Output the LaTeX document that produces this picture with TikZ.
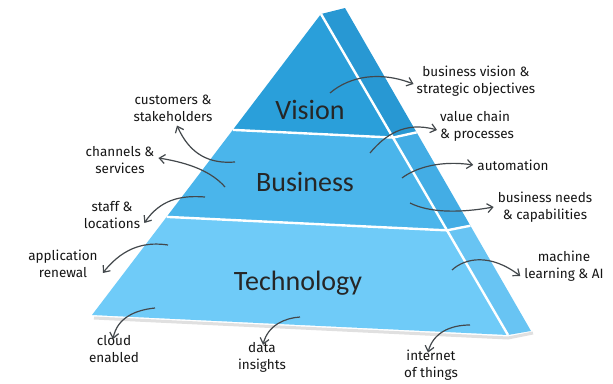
\documentclass[tikz,border=0pt]{standalone}
\usepackage{fontspec}
\setmainfont{Fira Sans}
\newfontfamily\calfont{Carlito}
\usetikzlibrary{calc,arrows.meta}
\definecolor{cvis}{HTML}{2A9FDA}
\definecolor{cbus}{HTML}{4AB5EB}
\definecolor{ctec}{HTML}{6FCBF8}
\definecolor{svis}{HTML}{2898D3}
\definecolor{sbus}{HTML}{43ADE5}
\definecolor{stec}{HTML}{68C4F3}
\definecolor{ink}{HTML}{151515}
\definecolor{arr}{HTML}{43484C}
\begin{document}
\begin{tikzpicture}[x=1pt,y=-1pt,
  lbl/.style={font=\fontsize{13.5}{17}\selectfont, text=ink, align=center, inner sep=0pt},
  big/.style={font=\calfont\fontsize{28}{30}\selectfont, text=black!85, inner sep=0pt},
  con/.style={draw=arr, line width=1.2pt, -{Straight Barb[length=5.5pt,width=9pt]}},
  gap/.style={draw=white, line width=2.4pt}]
\useasboundingbox (0,0) rectangle (613,383);
\fill[white] (0,0) rectangle (613,383);
% geometry
\coordinate (A) at (321,14);
\coordinate (BL) at (92,315);
\coordinate (BR) at (508,335);
\coordinate (SA) at (345,8);
\coordinate (SB) at (531,331);
\coordinate (L1) at ($(A)!0.385!(BL)$);
\coordinate (R1) at ($(A)!0.385!(BR)$);
\coordinate (S1) at ($(SA)!0.385!(SB)$);
\coordinate (L2) at ($(A)!0.674!(BL)$);
\coordinate (R2) at ($(A)!0.674!(BR)$);
\coordinate (S2) at ($(SA)!0.674!(SB)$);
% shadow
\draw[black!12, line width=3pt] ($(BL)+(2,3)$) -- ($(BR)+(0,3)$) -- ($(SB)+(2,2)$);
% faces
\fill[cvis] (A) -- (R1) -- (L1) -- cycle;
\fill[cbus] (L1) -- (R1) -- (R2) -- (L2) -- cycle;
\fill[ctec] (L2) -- (R2) -- (BR) -- (BL) -- cycle;
\fill[svis] (A) -- (SA) -- (S1) -- (R1) -- cycle;
\fill[sbus] (R1) -- (S1) -- (S2) -- (R2) -- cycle;
\fill[stec] (R2) -- (S2) -- (SB) -- (BR) -- cycle;
% white separators
\draw[gap] (A) -- (BR);
\draw[gap] (L1) -- (R1) -- (S1);
\draw[gap] (L2) -- (R2) -- (S2);
% tier titles
\node[big] (vis) at (310,110) {Vision};
\node[big] (bus) at (305,182) {Business};
\node[big] (tec) at (298,283) {Technology};
% labels
\node[lbl] (bv) at (476,81) {business vision \&\\strategic objectives};
\node[lbl, anchor=west, align=left] (vc) at (440,126) {value chain\\\& processes};
\node[lbl] (au) at (513,165) {automation};
\node[lbl] (bn) at (545,207) {business needs\\\& capabilities};
\node[lbl] (ml) at (564,266) {machine\\learning \& AI};
\node[lbl] (io) at (431,365) {internet\\of things};
\node[lbl] (di) at (262,357) {data\\insights};
\node[lbl] (ce) at (114,349) {cloud\\enabled};
\node[lbl] (ar) at (63,264) {application\\renewal};
\node[lbl] (sl) at (112,215) {staff \&\\locations};
\node[lbl] (cs) at (120,160) {channels \&\\services};
\node[lbl] (ck) at (173,108) {customers \&\\stakeholders};
% arrow start points
\coordinate (a1) at (330,93);
\coordinate (a2) at (370,153);
\coordinate (a3) at (402,178);
\coordinate (a4) at (410,203);
\coordinate (a5) at (452,270);
\coordinate (a6) at (470,325);
\coordinate (a7) at (300,317);
\coordinate (a8) at (155,308);
\coordinate (a9) at (168,245);
\coordinate (a10) at (205,197);
\coordinate (a11) at (225,187);
\coordinate (a12) at (235,162);
% connectors
\draw[con] (a1) .. controls (350,76) and (380,71) .. ([xshift=-3pt,yshift=-3pt]bv.west);
\draw[con] (a2) .. controls (385,135) and (405,121) .. ([xshift=-3pt,yshift=-4pt]vc.west);
\draw[con] (a3) .. controls (415,168) and (440,160) .. ([xshift=-4pt]au.west);
\draw[con] (a4) .. controls (430,213) and (460,213) .. ([xshift=-4pt,yshift=0pt]bn.west);
\draw[con] (a5) .. controls (465,258) and (490,253) .. ([xshift=-4pt,yshift=-10pt]ml.west);
\draw[con] (a6) .. controls (450,325) and (433,333) .. ([xshift=-3pt,yshift=-3pt]io.north);
\draw[con] (a7) .. controls (285,318) and (268,325) .. ([xshift=1pt,yshift=-3pt]di.north);
\draw[con] (a8) .. controls (135,310) and (117,318) .. ([xshift=-1pt,yshift=-4pt]ce.north);
\draw[con] (a9) .. controls (148,242) and (125,245) .. ([xshift=5pt,yshift=-9pt]ar.east);
\draw[con] (a10) .. controls (180,195) and (160,200) .. ([xshift=4pt,yshift=-8pt]sl.east);
\draw[con] (a11) .. controls (212,172) and (190,163) .. ([xshift=4pt,yshift=2pt]cs.east);
\draw[con] (a12) .. controls (210,164) and (190,155) .. ([xshift=4pt,yshift=-4pt]ck.south);
\end{tikzpicture}
\end{document}
